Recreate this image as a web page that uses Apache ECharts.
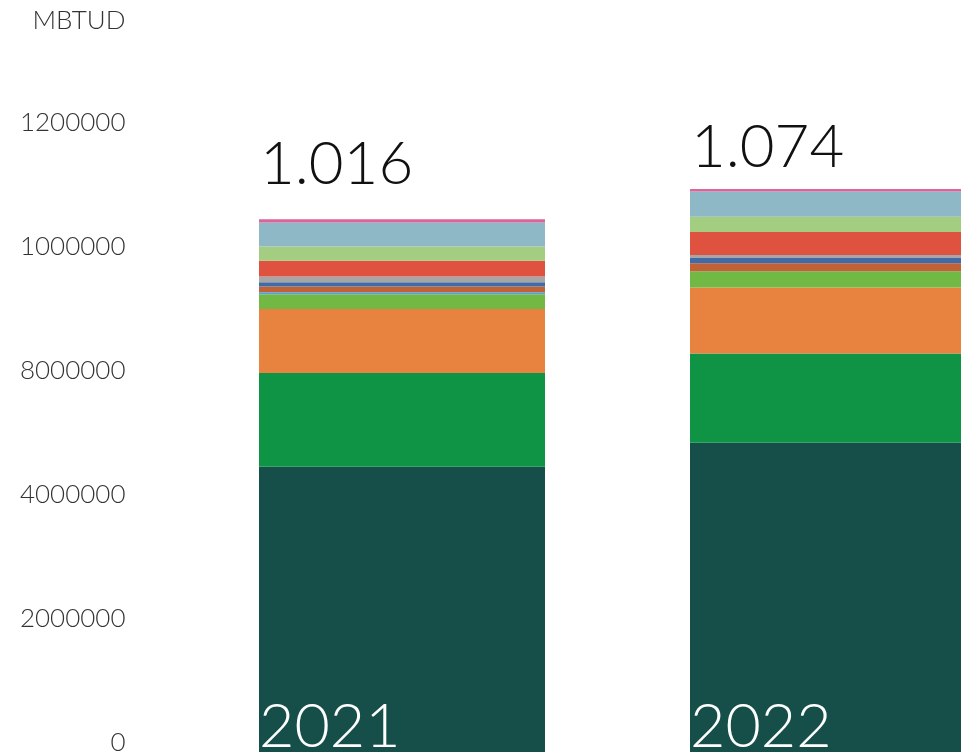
<!DOCTYPE html>
<html>
<head>
<meta charset="utf-8">
<title>MBTUD 2021–2022</title>
<script src="https://cdn.jsdelivr.net/npm/echarts@6/dist/echarts.min.js"></script>
<style>
  html, body { margin: 0; padding: 0; background: #ffffff; overflow: hidden; }
  #chart { width: 961px; height: 752px; }
</style>
</head>
<body>
<div id="chart"></div>
<script>
// Years on the category axis
const categories = ['2021', '2022'];

// Stacked components, bottom to top (thousands)
const seg01 = [544, 590];
const seg02 = [179, 170];
const seg03 = [122, 126];
const seg04 = [28, 31];
const seg05 = [4, 0];
const seg06 = [11, 15];
const seg07 = [8, 10];
const seg08 = [11, 6];
const seg09 = [30, 44];
const seg10 = [27, 29];
const seg11 = [46, 48];
const seg12 = [6, 5];

// Y axis tick texts, bottom to top
const tickLabels = ['0', '2000000', '4000000', '8000000', '1000000', '1200000'];

const stackSegments = [seg01, seg02, seg03, seg04, seg05, seg06, seg07, seg08, seg09, seg10, seg11, seg12];
const segmentColors = ['#164f49', '#0f9446', '#e8823f', '#72b844', '#4fa6de', '#c06235',
                       '#426aa6', '#a6a6a6', '#df523f', '#a3cd80', '#8fb8c6', '#d9659a'];

const totals = categories.map((_, i) => stackSegments.reduce((s, arr) => s + arr[i], 0));

const FONT = 'Lato, "Open Sans", sans-serif';
const TICK_STEP = 236.5;
const totalLift = [-55, -41];

const series = stackSegments.map((values, si) => {
  const isBottom = si === 0;
  const isTop = si === stackSegments.length - 1;
  const s = {
    type: 'bar',
    name: 'Componente ' + (si + 1),
    stack: 'total',
    barWidth: 286,
    itemStyle: { color: segmentColors[si] },
    emphasis: { disabled: true },
    data: values.map((v, i) => {
      if (!isTop) return v;
      return {
        value: v,
        label: {
          show: true,
          position: [1, totalLift[i]],
          align: 'left',
          verticalAlign: 'middle',
          formatter: () => (totals[i] / 1000).toFixed(3),
          color: '#111111',
          fontFamily: FONT,
          fontWeight: 300,
          fontSize: 60
        }
      };
    })
  };
  if (isBottom) {
    s.label = {
      show: true,
      position: 'insideBottomLeft',
      distance: 0,
      formatter: '{b}',
      color: '#ffffff',
      fontFamily: FONT,
      fontWeight: 300,
      fontSize: 61,
      lineHeight: 50
    };
  }
  return s;
});

const chart = echarts.init(document.getElementById('chart'), null, { renderer: 'canvas', width: 961, height: 752 });
chart.setOption({
  animation: false,
  backgroundColor: '#ffffff',
  grid: {
    left: 186.5, top: 132, width: 862, height: 620,
    containLabel: false,
    outerBoundsMode: 'none'
  },
  xAxis: {
    type: 'category',
    data: categories,
    axisLine: { show: false },
    axisTick: { show: false },
    axisLabel: { show: false },
    splitLine: { show: false }
  },
  yAxis: {
    type: 'value',
    min: 0,
    max: TICK_STEP * 5,
    interval: TICK_STEP,
    name: 'MBTUD',
    nameLocation: 'end',
    nameGap: 111,
    nameTextStyle: {
      color: '#333333',
      fontFamily: FONT,
      fontWeight: 300,
      fontSize: 26,
      align: 'right',
      verticalAlign: 'middle',
      padding: [0, 61, 0, 0]
    },
    axisLine: { show: false },
    axisTick: { show: false },
    splitLine: { show: false },
    axisLabel: {
      margin: 61,
      color: '#333333',
      fontFamily: FONT,
      fontWeight: 300,
      fontSize: 26,
      verticalAlign: 'bottom',
      lineHeight: 18,
      formatter: (v) => tickLabels[Math.round(v / TICK_STEP)] ?? ''
    }
  },
  series: series
});
</script>
</body>
</html>
